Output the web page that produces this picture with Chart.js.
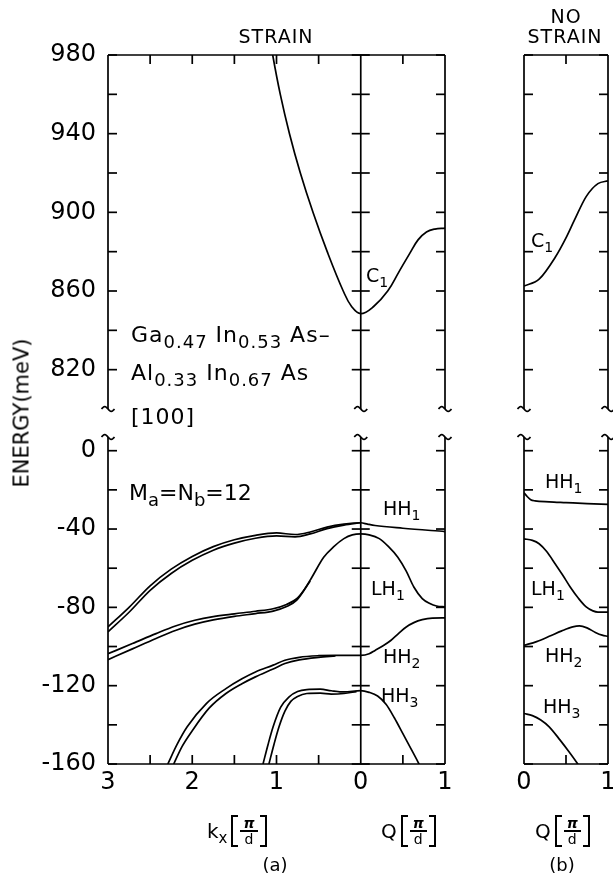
<!DOCTYPE html>
<html>
<head>
<meta charset="utf-8">
<script src="https://cdn.jsdelivr.net/npm/chart.js@4.4.1/dist/chart.umd.min.js"></script>
<style>
  html, body { margin: 0; padding: 0; background: #fff; overflow: hidden; }
  #page { position: relative; width: 613px; height: 879px; }
  #page canvas { position: absolute; left: 0; top: 0; }
  .t { position: absolute; font-family: "DejaVu Sans", sans-serif; color: #000; line-height: 1; white-space: nowrap; }
  .t sub { line-height: 0; }
  .band { font-size: 19px; }
  .band sub { font-size: 14px; vertical-align: -5px; }
  .comp { font-size: 22px; letter-spacing: 1px; }
  .comp sub { font-size: 18px; vertical-align: -6px; }
  .ttl { font-size: 19px; letter-spacing: 1px; transform: translateX(-50%); }
  .axl { display: flex; align-items: center; font-size: 20px; }
  .axl sub { position: relative; top: 7px; font-size: 15px; }
  .brk { position: relative; display: inline-flex; flex-direction: column; align-items: center; margin-left: 4px; padding: 0 9px; }
  .brk::before, .brk::after { content: ""; position: absolute; top: 0; bottom: 0; width: 5px; border: 2px solid #000; }
  .brk::before { left: 0; border-right: none; }
  .brk::after { right: 0; border-left: none; }
  .num { font-size: 14px; font-weight: bold; font-style: italic; border-bottom: 2px solid #000; padding: 1px 3px 0; line-height: 1; }
  .den { font-size: 14px; line-height: 1.05; }
  .cap { font-size: 18px; transform: translateX(-50%); }
  .ylab { font-size: 21px; left: 22px; top: 413px; transform: translate(-50%, -50%) rotate(-90deg); }
</style>
</head>
<body>
<div id="page">
  <canvas id="aTop" width="640" height="879"></canvas>
  <canvas id="aBot" width="640" height="879"></canvas>
  <canvas id="bTop" width="640" height="879"></canvas>
  <canvas id="bBot" width="640" height="879"></canvas>

  <div class="t ttl" style="left:276px; top:27px">STRAIN</div>
  <div class="t ttl" style="left:566px; top:7px">NO</div>
  <div class="t ttl" style="left:565px; top:27px">STRAIN</div>

  <div class="t ylab">ENERGY(meV)</div>

  <div class="t comp" style="left:131px; top:324px">Ga<sub>0.47</sub> In<sub>0.53</sub> As–</div>
  <div class="t comp" style="left:131px; top:362px">Al<sub>0.33</sub> In<sub>0.67</sub> As</div>
  <div class="t comp" style="left:131px; top:406px">[100]</div>
  <div class="t comp" style="left:129px; top:482px; letter-spacing:0">M<sub>a</sub>=N<sub>b</sub>=12</div>

  <div class="t band" style="left:366px; top:266px">C<sub>1</sub></div>
  <div class="t band" style="left:383px; top:499px">HH<sub>1</sub></div>
  <div class="t band" style="left:371px; top:579px">LH<sub>1</sub></div>
  <div class="t band" style="left:383px; top:647px">HH<sub>2</sub></div>
  <div class="t band" style="left:381px; top:686px">HH<sub>3</sub></div>

  <div class="t band" style="left:531px; top:231px">C<sub>1</sub></div>
  <div class="t band" style="left:545px; top:472px">HH<sub>1</sub></div>
  <div class="t band" style="left:531px; top:579px">LH<sub>1</sub></div>
  <div class="t band" style="left:545px; top:646px">HH<sub>2</sub></div>
  <div class="t band" style="left:543px; top:697px">HH<sub>3</sub></div>

  <div class="t axl" style="left:207px; top:815px">k<sub>x</sub><span class="brk"><span class="num">π</span><span class="den">d</span></span></div>
  <div class="t axl" style="left:381px; top:815px">Q<span class="brk"><span class="num">π</span><span class="den">d</span></span></div>
  <div class="t axl" style="left:535px; top:815px">Q<span class="brk"><span class="num">π</span><span class="den">d</span></span></div>

  <div class="t cap" style="left:275px; top:856px">(a)</div>
  <div class="t cap" style="left:562px; top:856px">(b)</div>
</div>

<script>
/* =========================
   BAND DATA  (energies in meV)
   kx side is plotted as x = -kx
========================= */

// conduction band C1, strained
const c1Kx  = [1.12, 1.045, 0.955, 0.846, 0.717, 0.567, 0.398, 0.208, 0.107, 0];
const c1KxE = [1000, 980, 960, 940, 920, 900, 880, 860, 852, 848.5];
const c1Q   = [0.15, 0.32, 0.45, 0.58, 0.68, 0.78, 0.88, 1];
const c1QE  = [852, 860, 869.5, 879, 886, 890, 891.5, 892];

// conduction band C1, no strain
const c1bQ = [0, 0.18, 0.37, 0.5, 0.6, 0.74, 0.88, 1];
const c1bE = [862.5, 866, 877, 887, 896, 908, 914.6, 916];

// HH1, strained
const hh1Kx   = [3, 2.75, 2.5, 2.25, 2, 1.75, 1.5, 1.25, 1, 0.78, 0.6, 0.4, 0.2, 0];
const hh1KxE  = [-90, -80, -69, -60.5, -54, -49, -45.5, -43.2, -42, -42.8, -41.5, -39, -37.5, -36.8];
const hh1KxE2 = [-92.5, -82.5, -71.3, -62.7, -56, -50.8, -47.2, -44.7, -43.5, -44, -42.5, -39.8, -38, -36.8];
const hh1Q    = [0.08, 0.17, 0.5, 1];
const hh1QE   = [-37.5, -38.2, -39.6, -41.3];

// LH1, strained
const lh1Kx   = [3, 2.71, 2.43, 2.2, 1.97, 1.75, 1.5, 1.25, 1.04, 0.88, 0.76, 0.68, 0.58, 0.44, 0.32, 0.2, 0.1, 0];
const lh1KxE  = [-103.7, -98.5, -93.4, -89.5, -86.6, -84.7, -83.3, -82, -80.7, -78.5, -75.6, -71.5, -64.6, -54.4, -49, -44.9, -43, -42.5];
const lh1Kx2  = [3, 2.71, 2.43, 2.2, 1.97, 1.75, 1.5, 1.25, 1.04, 0.88, 0.76, 0.6];
const lh1KxE2 = [-106.7, -101.2, -95.9, -91.8, -88.6, -86.4, -84.6, -83.2, -81.9, -79.6, -76.3, -66.5];
const lh1Q    = [0.1, 0.22, 0.33, 0.44, 0.54, 0.63, 0.73, 0.82, 0.9, 1];
const lh1QE   = [-43, -44.9, -49, -54.4, -61.5, -69.6, -75.5, -78, -79.3, -79.8];

// HH2, strained
const hh2Kx   = [2.29, 2.18, 2.06, 1.83, 1.6, 1.41, 1.25, 1.04, 0.9, 0.73, 0.5, 0.3, 0];
const hh2KxE  = [-160, -150, -141, -129, -121.5, -116.5, -113, -109.5, -107, -105.5, -104.7, -104.5, -104.5];
const hh2Kx2  = [2.22, 2.12, 2.0, 1.8, 1.6, 1.41, 1.25, 1.04, 0.9, 0.73, 0.5, 0.3];
const hh2KxE2 = [-160, -151, -143, -131.5, -124, -119, -115.5, -111.5, -108.7, -106.8, -105.5, -104.8];
const hh2Q    = [0.1, 0.17, 0.27, 0.36, 0.45, 0.54, 0.63, 0.73, 0.85, 1];
const hh2QE   = [-103.7, -102, -99.5, -96.8, -93.3, -90, -87.8, -86.3, -85.5, -85.4];

// HH3, strained
const hh3Kx   = [1.16, 1.1, 1.04, 0.95, 0.85, 0.75, 0.64, 0.48, 0.35, 0.2, 0];
const hh3KxE  = [-160, -150, -141, -131, -125.7, -123, -122, -121.8, -122.6, -123.2, -122.5];
const hh3Kx2  = [1.09, 1.03, 0.97, 0.9, 0.83, 0.75, 0.64, 0.48, 0.35, 0.2, 0.05];
const hh3KxE2 = [-160, -150, -141, -133, -128, -125.5, -124, -123.8, -124.3, -124, -123];
const hh3Q    = [0.1, 0.2, 0.3, 0.4, 0.5, 0.6, 0.68, 0.75];
const hh3QE   = [-123.4, -125.3, -129.5, -136.5, -144.5, -152.5, -159, -165];

// valence bands, no strain
const hh1bQ = [0, 0.04, 0.08, 0.13, 0.3, 0.5, 0.75, 1];
const hh1bE = [-21.5, -23.5, -25, -25.6, -26.1, -26.5, -27, -27.4];
const lh1bQ = [0, 0.1, 0.18, 0.27, 0.37, 0.46, 0.55, 0.65, 0.74, 0.82, 0.88, 1];
const lh1bE = [-45, -45.8, -47.5, -51.5, -57.7, -63.5, -69.6, -75.5, -79.8, -81.8, -82.4, -82.4];
const hh2bQ = [0, 0.15, 0.3, 0.45, 0.58, 0.66, 0.75, 0.85, 0.93, 1];
const hh2bE = [-99.4, -97.5, -94.8, -92, -90, -89.5, -90.5, -92.8, -94.2, -94.8];
const hh3bQ = [0, 0.1, 0.2, 0.3, 0.43, 0.54, 0.64, 0.7];
const hh3bE = [-134.2, -135.3, -137.5, -141, -147.8, -154, -160, -164];

// axis ranges
const upperRange = [800, 980];
const lowerRange = [-160, 7];

/* =========================
   HELPERS
========================= */
Chart.defaults.font.family = "'DejaVu Sans', sans-serif";
Chart.defaults.color = '#000';

function pts(xs, es, sign) {
  return xs.map((v, i) => ({ x: sign * v, y: es[i] }));
}

function band(points, tension) {
  const ds = {
    data: points,
    showLine: true,
    borderColor: '#000',
    borderWidth: 1.7,
    pointRadius: 0,
    fill: false
  };
  // steep branches look better with plain bezier smoothing
  if (tension) ds.tension = tension;
  else ds.cubicInterpolationMode = 'monotone';
  return ds;
}

// kx branch (drawn leftwards) joined to the Q branch
function joined(kx, kxE, q, qE, tension) {
  return band(pts(kx, kxE, -1).concat(pts(q, qE, 1)), tension);
}

// frame, inward ticks, kx=0 divider and axis-break marks
const framePlugin = {
  id: 'frame',
  afterDatasetsDraw(chart, args, opts) {
    const { ctx, chartArea: a, scales: { x, y } } = chart;
    const T = 9;
    const seg = (x1, y1, x2, y2) => {
      ctx.beginPath(); ctx.moveTo(x1, y1); ctx.lineTo(x2, y2); ctx.stroke();
    };
    ctx.save();
    ctx.strokeStyle = '#000';
    ctx.lineWidth = 1.7;

    const openBottom = opts.open === 'bottom';
    const openY = openBottom ? a.bottom : a.top;
    const shutY = openBottom ? a.top : a.bottom;
    const inward = openBottom ? 1 : -1;

    const edges = [x.min, x.max];
    if (opts.divider) edges.push(0);
    edges.forEach(v => {
      const px = x.getPixelForValue(v);
      seg(px, a.top, px, a.bottom);
      // tilde at the broken end
      ctx.beginPath();
      for (let i = 0; i <= 16; i++) {
        const t = -1 + i / 8;
        const xx = px + 6.5 * t;
        const yy = openY + 2.4 * Math.sin(Math.PI * t);
        if (i === 0) ctx.moveTo(xx, yy); else ctx.lineTo(xx, yy);
      }
      ctx.stroke();
    });
    seg(a.left, shutY, a.right, shutY);

    for (let v = x.min + 0.5; v < x.max - 1e-6; v += 0.5) {
      if (opts.divider && Math.abs(v) < 1e-6) continue;
      const px = x.getPixelForValue(v);
      seg(px, shutY, px, shutY + inward * T);
    }

    y.ticks.forEach(t => {
      if (t.value % 20 !== 0) return;
      const py = y.getPixelForValue(t.value);
      if (Math.abs(py - openY) < 2) return;
      seg(a.left, py, a.left + T, py);
      seg(a.right - T, py, a.right, py);
      if (opts.divider) {
        const p0 = x.getPixelForValue(0);
        seg(p0 - T, py, p0 + T, py);
      }
    });
    ctx.restore();
  }
};

function yAxis(range, show, labelMod) {
  return {
    type: 'linear',
    min: range[0],
    max: range[1],
    display: show,
    afterFit: s => { if (show) s.width = 108; },
    grid: { drawOnChartArea: false, drawTicks: false },
    border: { display: false },
    ticks: {
      stepSize: 20,
      includeBounds: false,
      padding: 12,
      font: { size: 24 },
      callback: v => (((v % 40) + 40) % 40 === labelMod ? String(v) : '')
    }
  };
}

function xAxis(min, max, show) {
  return {
    type: 'linear',
    min: min,
    max: max,
    display: show,
    afterFit: s => { if (show) s.height = 40; },
    grid: { drawOnChartArea: false, drawTicks: false },
    border: { display: false },
    ticks: {
      stepSize: 0.5,
      autoSkip: false,
      maxRotation: 0,
      padding: 4,
      font: { size: 24 },
      callback: v => (Number.isInteger(v) ? String(Math.abs(v)) : '')
    }
  };
}

function makeChart(id, datasets, scales, padding, frame) {
  return new Chart(document.getElementById(id), {
    type: 'scatter',
    data: { datasets },
    options: {
      responsive: false,
      animation: false,
      devicePixelRatio: 1,
      layout: { padding },
      scales,
      plugins: { legend: { display: false }, tooltip: { enabled: false }, frame }
    },
    plugins: [framePlugin]
  });
}

/* =========================
   PANEL (a)  STRAIN
========================= */
makeChart('aTop',
  [joined(c1Kx, c1KxE, c1Q, c1QE, 0.4)],
  { x: xAxis(-3, 1, false), y: yAxis(upperRange, true, 20) },
  { left: 0, right: 195, top: 55, bottom: 470 },
  { open: 'bottom', divider: true }
);

makeChart('aBot',
  [
    joined(hh1Kx, hh1KxE, hh1Q, hh1QE),
    band(pts(hh1Kx, hh1KxE2, -1)),
    joined(lh1Kx, lh1KxE, lh1Q, lh1QE),
    band(pts(lh1Kx2, lh1KxE2, -1)),
    joined(hh2Kx, hh2KxE, hh2Q, hh2QE),
    band(pts(hh2Kx2, hh2KxE2, -1)),
    joined(hh3Kx, hh3KxE, hh3Q, hh3QE),
    band(pts(hh3Kx2, hh3KxE2, -1))
  ],
  { x: xAxis(-3, 1, true), y: yAxis(lowerRange, true, 0) },
  { left: 0, right: 195, top: 437, bottom: 75 },
  { open: 'top', divider: true }
);

/* =========================
   PANEL (b)  NO STRAIN
========================= */
makeChart('bTop',
  [band(pts(c1bQ, c1bE, 1))],
  { x: xAxis(0, 1, false), y: yAxis(upperRange, false, 20) },
  { left: 524, right: 32, top: 55, bottom: 470 },
  { open: 'bottom', divider: false }
);

makeChart('bBot',
  [
    band(pts(hh1bQ, hh1bE, 1)),
    band(pts(lh1bQ, lh1bE, 1)),
    band(pts(hh2bQ, hh2bE, 1)),
    band(pts(hh3bQ, hh3bE, 1))
  ],
  { x: xAxis(0, 1, true), y: yAxis(lowerRange, false, 0) },
  { left: 524, right: 32, top: 437, bottom: 75 },
  { open: 'top', divider: false }
);
</script>
</body>
</html>
